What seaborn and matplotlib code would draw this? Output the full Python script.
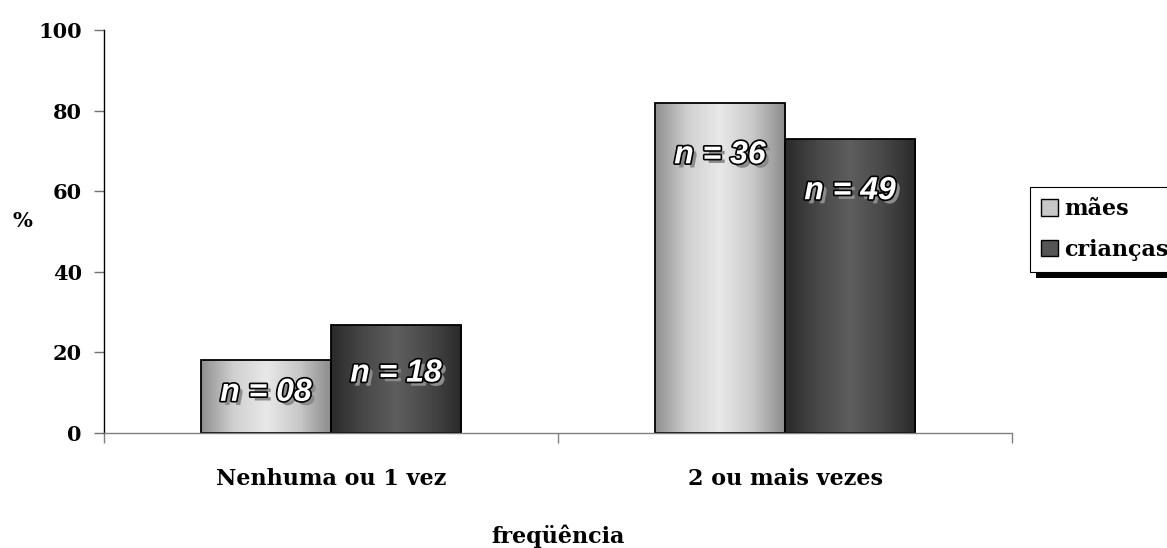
import numpy as np
import pandas as pd
import matplotlib
matplotlib.use("Agg")
import matplotlib.pyplot as plt
import matplotlib.patheffects as pe
from matplotlib.patches import Patch
from matplotlib.colors import LinearSegmentedColormap
import seaborn as sns

# Data
categories = ["Nenhuma ou 1 vez", "2 ou mais vezes"]
groups = ["mães", "crianças"]
maes = [18.1, 81.9]
criancas = [26.8, 73.0]
n_maes = ["n = 08", "n = 36"]
n_criancas = ["n = 18", "n = 49"]

df = pd.DataFrame({
    "freq": categories * 2,
    "grupo": [groups[0]] * 2 + [groups[1]] * 2,
    "pct": maes + criancas,
    "n": n_maes + n_criancas,
})

sns.set_style("white")
plt.rcParams["font.family"] = ["DejaVu Serif"]
plt.rcParams.update({"text.color": "black", "axes.labelcolor": "black",
                     "xtick.color": "black", "ytick.color": "black"})

fig = plt.figure(figsize=(11.67, 5.48), dpi=100)
ax = fig.add_axes([0.0891, 0.2099, 0.8672 - 0.0891, 0.9453 - 0.2099])

base_colors = {"mães": "#c4c4c4", "crianças": "#4a4a4a"}
sns.barplot(data=df, x="freq", y="pct", hue="grupo", order=categories,
            hue_order=groups, palette=base_colors, width=0.573, dodge=True,
            edgecolor="black", linewidth=1.3, saturation=1, legend=False, ax=ax)

ax.set_xlim(-0.5, 1.5)
ax.set_ylim(0, 100)

# Cylinder-like horizontal shading for each bar
grad_light = LinearSegmentedColormap.from_list(
    "light", ["#8f8f8f", "#d0d0d0", "#e8e8e8", "#c8c8c8", "#8a8a8a"])
grad_dark = LinearSegmentedColormap.from_list(
    "dark", ["#2a2a2a", "#484848", "#5e5e5e", "#484848", "#2a2a2a"])
row = np.linspace(0, 1, 256).reshape(1, -1)

bars = ax.patches
labels_order = []
for gi, g in enumerate(groups):
    for ci, c in enumerate(categories):
        labels_order.append((g, ci))

for bar, (g, ci) in zip(bars, labels_order):
    x0, w, h = bar.get_x(), bar.get_width(), bar.get_height()
    cmap = grad_light if g == "mães" else grad_dark
    im = ax.imshow(row, cmap=cmap, aspect="auto", extent=[x0, x0 + w, 0, h],
                   zorder=bar.get_zorder() + 0.1, interpolation="bicubic")
    im.set_clip_path(bar)
    bar.set_facecolor("none")
    bar.set_zorder(bar.get_zorder() + 0.2)

    label = (n_maes if g == "mães" else n_criancas)[ci]
    ty = h - min(13, h * 0.45)
    ax.text(x0 + w / 2, ty, label, ha="center", va="center",
            fontsize=23, fontweight="bold", fontstyle="italic",
            family="Liberation Sans", color="white", zorder=5,
            path_effects=[
                pe.withSimplePatchShadow(offset=(3, -3), shadow_rgbFace="#8c8c8c", alpha=1),
                pe.withStroke(linewidth=2.4, foreground="black"),
            ])

ax.set_xlim(-0.5, 1.5)
ax.set_ylim(0, 100)

# Axes styling
for s in ["top", "right"]:
    ax.spines[s].set_visible(False)
ax.spines["left"].set_color("black")
ax.spines["left"].set_linewidth(1.0)
ax.spines["bottom"].set_color("#808080")
ax.spines["bottom"].set_linewidth(1.0)

ax.set_yticks([0, 20, 40, 60, 80, 100])
ax.tick_params(axis="y", direction="out", length=7, width=1, color="#707070",
               labelcolor="black", labelsize=15, pad=9, left=True)
for t in ax.get_yticklabels():
    t.set_fontweight("bold")

ax.set_xticks([-0.5, 0.5, 1.5])
ax.set_xticklabels([])
ax.set_xticks([0, 1], minor=True)
ax.set_xticklabels(categories, minor=True, fontsize=16, fontweight="bold")
ax.tick_params(axis="x", which="major", direction="out", length=7, width=1,
               color="#808080", bottom=True)
ax.tick_params(axis="x", which="minor", length=0, pad=25, labelcolor="black")

ax.set_xlabel("freqüência", fontsize=16, fontweight="bold", labelpad=25)
ax.set_ylabel("%", fontsize=15, fontweight="bold", rotation=0, labelpad=0)
ax.yaxis.set_label_coords(-0.09, 0.5)

# Legend with solid drop shadow
handles = [Patch(facecolor="#c8c8c8", edgecolor="black", label="mães"),
           Patch(facecolor="#555555", edgecolor="black", label="crianças")]
leg = fig.legend(handles=handles, loc="upper left",
                 bbox_to_anchor=(1030 / 1167, 1 - 187 / 548),
                 prop={"size": 16, "weight": "bold"}, frameon=True,
                 fancybox=False, handlelength=0.75, handleheight=0.75,
                 handletextpad=0.3, borderpad=0.5, labelspacing=0.85,
                 borderaxespad=0)
for t in leg.get_texts():
    t.set_color("black")
frame = leg.get_frame()
frame.set_edgecolor("black")
frame.set_linewidth(0.8)
frame.set_alpha(1)
frame.set_path_effects([pe.SimplePatchShadow(offset=(4, -4), shadow_rgbFace="black", alpha=1),
                        pe.Normal()])

fig.savefig("out.png", dpi=100)
